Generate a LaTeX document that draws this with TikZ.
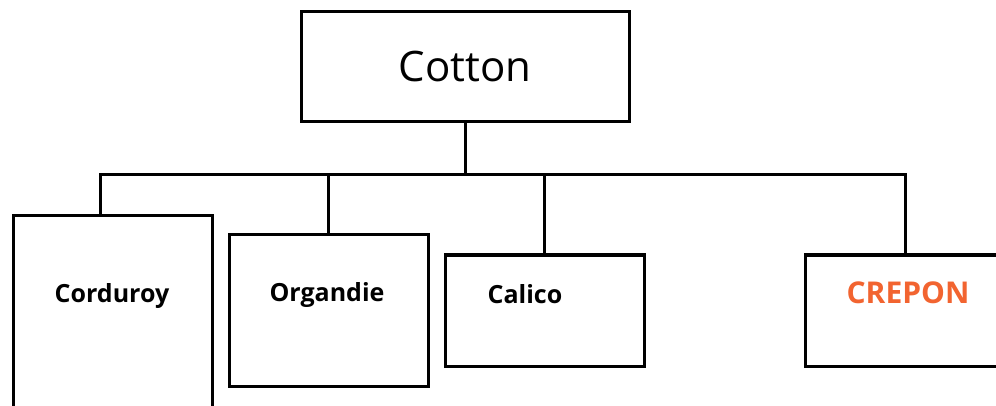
\documentclass[tikz,border=0pt]{standalone}
\usepackage{fontspec}
\setmainfont{Open Sans}
\definecolor{crepcol}{HTML}{F26430}
\begin{document}
\begin{tikzpicture}[x=1pt,y=-1pt,
  boxst/.style={draw=black,line width=3pt,inner sep=0pt,fill=white,anchor=center},
  lbl/.style={font=\fontsize{25}{28}\selectfont\bfseries,inner sep=0pt},
  conn/.style={line width=3pt,line cap=rect}]
\useasboundingbox (0,0) rectangle (996,406);
\fill[white] (0,0) rectangle (996,406);
\node[boxst,minimum width=328pt,minimum height=110pt,font=\fontsize{42}{48}\selectfont] (cotton) at (465,67) {Cotton};
\node[boxst,minimum width=199pt,minimum height=214pt] (cord) at (112.5,323) {};
\node[boxst,minimum width=199pt,minimum height=151pt] (org) at (328.5,310.5) {};
\node[boxst,minimum width=199pt,minimum height=111pt] (cal) at (544.5,310.5) {};
\node[boxst,minimum width=204pt,minimum height=111pt] (crep) at (907,310.5) {};
\coordinate (bus) at (465,175);
\node[lbl] (tcord) at (112,296) {Corduroy};
\node[lbl] (torg) at (327,295) {Organdie};
\node[lbl] (tcal) at (525,294) {Calico};
\node[lbl,text=crepcol,font=\fontsize{30}{34}\selectfont\bfseries] (tcrep) at (908,293) {CREPON};
\draw[conn] (cotton.south) -- (bus);
\draw[conn] ([xshift=-12.5pt]cord.north) |- (bus) -| ([xshift=-2pt]crep.north);
\draw[conn] (org.north) -- (org.north |- bus);
\draw[conn] (cal.north) -- (cal.north |- bus);
\end{tikzpicture}
\end{document}
